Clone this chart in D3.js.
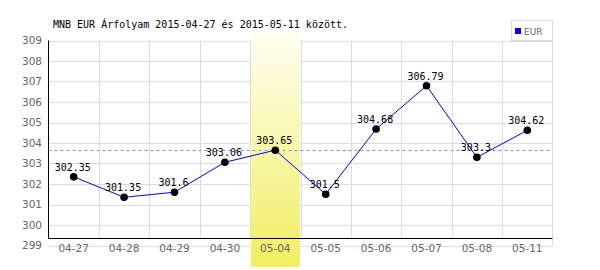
<!DOCTYPE html>
<meta charset="utf-8">
<style>
	body { margin: 0; background: #fff; }
	text { font-family: "DejaVu Sans", sans-serif; }
	.mono { font-family: "DejaVu Sans Mono", monospace; }
</style>

<div class="chart"></div>

<script src="https://d3js.org/d3.v7.min.js"></script>

<script>
	var dates = ["04-27", "04-28", "04-29", "04-30", "05-04", "05-05", "05-06", "05-07", "05-08", "05-11"];
	var rates = [302.35, 301.35, 301.6, 303.06, 303.65, 301.5, 304.68, 306.79, 303.3, 304.62];
	var yTicks = [299, 300, 301, 302, 303, 304, 305, 306, 307, 308, 309];
	var highlight = "05-04";
	var refValue = 303.65;
	var seriesName = "EUR";
	var title = "MNB EUR Árfolyam 2015-04-27 és 2015-05-11 között.";

	var width = 600, height = 270;
	var plotLeft = 48.5, plotRight = 552.5, plotTop = 40.5, axisY = 238.5, plotBottom = 245.5;

	var svg = d3.select('.chart')
			.append("svg")
			.attr("width", width)
			.attr("height", height);

	var xScale = d3.scaleBand()
			.domain(dates)
			.range([plotLeft, plotRight]);

	var yScale = d3.scaleLinear()
			.domain([299, 309])
			.range([plotBottom, plotTop]);

	// grid
	svg.append("g").selectAll("line")
			.data(yTicks)
			.enter().append("line")
			.attr("x1", plotLeft).attr("x2", plotRight)
			.attr("y1", function(d) { return Math.round(yScale(d)) + 0.5; })
			.attr("y2", function(d) { return Math.round(yScale(d)) + 0.5; })
			.attr("stroke", "#dddddd");

	svg.append("g").selectAll("line")
			.data(dates.slice(1))
			.enter().append("line")
			.attr("x1", function(d) { return Math.round(xScale(d)) + 0.5; })
			.attr("x2", function(d) { return Math.round(xScale(d)) + 0.5; })
			.attr("y1", plotTop).attr("y2", axisY)
			.attr("stroke", "#dddddd");

	svg.append("line")
			.attr("x1", plotRight).attr("x2", plotRight)
			.attr("y1", plotTop).attr("y2", plotBottom)
			.attr("stroke", "#dddddd");

	// highlighted day
	var grad = svg.append("defs").append("linearGradient")
			.attr("id", "hl").attr("x1", 0).attr("y1", 0).attr("x2", 0).attr("y2", 1);
	grad.append("stop").attr("offset", "0%").attr("stop-color", "#fffff4");
	grad.append("stop").attr("offset", "100%").attr("stop-color", "#f0ee60");

	svg.append("rect")
			.attr("x", Math.round(xScale(highlight)) + 1)
			.attr("y", 29)
			.attr("width", Math.round(xScale.bandwidth()) - 1)
			.attr("height", 238)
			.attr("fill", "url(#hl)");

	// axes lines
	svg.append("line")
			.attr("x1", plotLeft).attr("x2", plotLeft)
			.attr("y1", plotTop).attr("y2", axisY)
			.attr("stroke", "#000");
	svg.append("line")
			.attr("x1", plotLeft).attr("x2", plotRight)
			.attr("y1", axisY).attr("y2", axisY)
			.attr("stroke", "#000");

	// tick labels
	svg.append("g").selectAll("text")
			.data(yTicks)
			.enter().append("text")
			.attr("x", 42)
			.attr("y", function(d) { return yScale(d); })
			.attr("dy", "0.35em")
			.attr("text-anchor", "end")
			.attr("font-size", 10.5)
			.attr("fill", "#666")
			.text(function(d) { return d; });

	svg.append("g").selectAll("text")
			.data(dates)
			.enter().append("text")
			.attr("x", function(d) { return xScale(d) + xScale.bandwidth() / 2; })
			.attr("y", 252)
			.attr("text-anchor", "middle")
			.attr("font-size", 10.5)
			.attr("fill", "#666")
			.text(function(d) { return d; });

	// reference line
	svg.append("line")
			.attr("x1", plotLeft).attr("x2", plotRight)
			.attr("y1", Math.round(yScale(refValue)) + 0.5)
			.attr("y2", Math.round(yScale(refValue)) + 0.5)
			.attr("stroke", "#8888ff")
			.attr("stroke-dasharray", "3,3");

	// series
	var points = dates.map(function(d, i) { return {date: d, value: rates[i]}; });

	var line = d3.line()
			.x(function(d) { return xScale(d.date) + xScale.bandwidth() / 2; })
			.y(function(d) { return yScale(d.value); });

	svg.append("path")
			.datum(points)
			.attr("d", line)
			.attr("fill", "none")
			.attr("stroke", "#0000ff")
			.attr("stroke-width", 1);

	svg.append("g").selectAll("circle")
			.data(points)
			.enter().append("circle")
			.attr("cx", function(d) { return xScale(d.date) + xScale.bandwidth() / 2; })
			.attr("cy", function(d) { return yScale(d.value); })
			.attr("r", 3.8)
			.attr("fill", "#000");

	svg.append("g").selectAll("text")
			.data(points)
			.enter().append("text")
			.attr("class", "mono")
			.attr("x", function(d) { return xScale(d.date) + xScale.bandwidth() / 2 - 1; })
			.attr("y", function(d) { return yScale(d.value) - 6; })
			.attr("text-anchor", "middle")
			.attr("font-size", 10)
			.attr("fill", "#000")
			.text(function(d) { return d.value; });

	// title
	svg.append("text")
			.attr("class", "mono")
			.attr("x", 53)
			.attr("y", 28)
			.attr("font-size", 10)
			.attr("fill", "#000")
			.text(title);

	// legend
	svg.append("rect")
			.attr("x", 511.5).attr("y", 20.5)
			.attr("width", 41).attr("height", 20)
			.attr("fill", "#fff")
			.attr("stroke", "#dddddd");
	svg.append("rect")
			.attr("x", 515).attr("y", 28)
			.attr("width", 6).attr("height", 6)
			.attr("fill", "#0000ff");
	svg.append("text")
			.attr("x", 524).attr("y", 34.5)
			.attr("font-size", 9)
			.attr("fill", "#666")
			.text(seriesName);
</script>
